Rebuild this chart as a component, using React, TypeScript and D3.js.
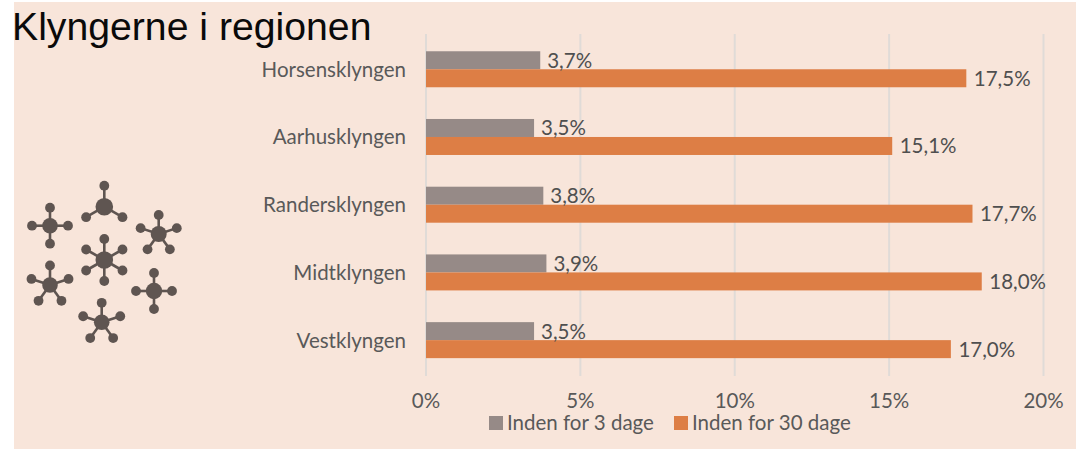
import React from "react";
import * as d3 from "d3";

const categories = ["Horsensklyngen", "Aarhusklyngen", "Randersklyngen", "Midtklyngen", "Vestklyngen"];
const within3 = [3.7, 3.5, 3.8, 3.9, 3.5];
const within30 = [17.5, 15.1, 17.7, 18.0, 17.0];
const xTicks = [0, 5, 10, 15, 20];
const legendLabels = ["Inden for 3 dage", "Inden for 30 dage"];
const title = "Klyngerne i regionen";

// icon clusters
const clusterX = [50, 104.3, 158.7, 104.3, 50, 154, 101.7];
const clusterY = [225.7, 206.7, 234, 260, 285, 291, 322.3];
const clusterHub = [7.8, 8.8, 8, 8.8, 7.8, 8.2, 7.8];
const clusterArms = [4, 3, 5, 6, 5, 4, 5];
const clusterLen = [18, 21, 19, 21, 19.5, 18, 19.5];

const fmt = (v: number) => v.toFixed(1).replace(".", ",") + "%";
const FONT = "Lato, 'Open Sans', sans-serif";
const FS = 20.5;

export default function App() {
  const x = d3.scaleLinear().domain([0, 20]).range([426, 1043.5]);
  const y = d3.scaleBand().domain(categories).range([35.4, 374]);
  const barH = 18;
  const angle = d3.scaleLinear().domain([0, 1]).range([-Math.PI / 2, (3 * Math.PI) / 2]);

  return (
    <svg width={1076} height={449} style={{ position: "absolute", left: 0, top: 0, background: "#fff" }}>
      <rect x={14} y={2} width={1062} height={447} fill="#f8e5da" />
      <text x={12} y={40} fontFamily="'Liberation Sans', Arial, sans-serif" fontSize={39.2} fill="#0a0a0a">{title}</text>

      {xTicks.map((t) => (
        <line key={t} x1={x(t)} x2={x(t)} y1={34} y2={376} stroke="#e0dbd7" strokeWidth={2} />
      ))}

      {categories.map((c, i) => {
        const mid = y(c)! + y.bandwidth() / 2;
        return (
          <g key={c}>
            <rect x={x(0)} y={mid - barH} width={x(within3[i]) - x(0)} height={barH} fill="#968a87" />
            <rect x={x(0)} y={mid} width={x(within30[i]) - x(0)} height={barH} fill="#dd7e45" />
            <text x={406} y={mid + 7.5} textAnchor="end" fontFamily={FONT} fontSize={FS} fill="#595959">{c}</text>
            <text x={x(within3[i]) + 7} y={mid - 1.5} fontFamily={FONT} fontSize={FS} fill="#4f4f4f">{fmt(within3[i])}</text>
            <text x={x(within30[i]) + 7.5} y={mid + 16.5} fontFamily={FONT} fontSize={FS} fill="#4f4f4f">{fmt(within30[i])}</text>
          </g>
        );
      })}

      {xTicks.map((t) => (
        <text key={t} x={x(t)} y={408} textAnchor="middle" fontFamily={FONT} fontSize={FS} fill="#595959">{t}%</text>
      ))}

      <rect x={489} y={416} width={14} height={14} fill="#968a87" />
      <text x={507} y={430} fontFamily={FONT} fontSize={FS} fill="#595959">{legendLabels[0]}</text>
      <rect x={674} y={416} width={14} height={14} fill="#dd7e45" />
      <text x={692} y={430} fontFamily={FONT} fontSize={FS} fill="#595959">{legendLabels[1]}</text>

      {clusterX.map((cx, i) => {
        const n = clusterArms[i];
        const nodes = d3.range(n).map((k) => {
          const a = angle(k / n);
          return [cx + Math.cos(a) * clusterLen[i], clusterY[i] + Math.sin(a) * clusterLen[i]];
        });
        return (
          <g key={i} fill="#5f5551" stroke="#5f5551">
            {nodes.map(([nx, ny], k) => (
              <g key={k}>
                <line x1={cx} y1={clusterY[i]} x2={nx} y2={ny} strokeWidth={2.6} />
                <circle cx={nx} cy={ny} r={4.9} stroke="none" />
              </g>
            ))}
            <circle cx={cx} cy={clusterY[i]} r={clusterHub[i]} stroke="none" />
          </g>
        );
      })}
    </svg>
  );
}
